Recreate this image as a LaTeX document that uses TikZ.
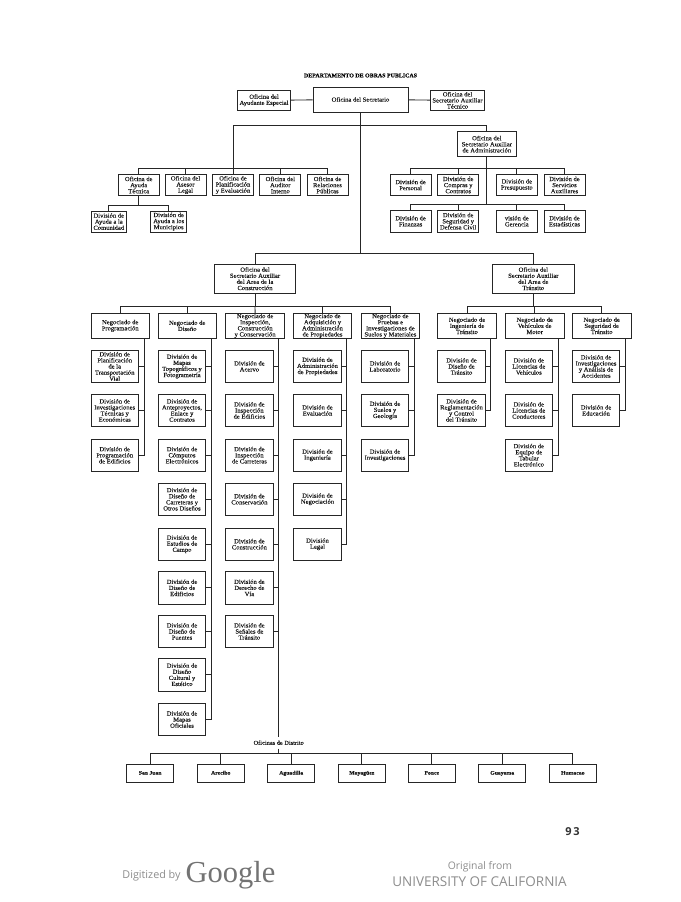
\documentclass[tikz,border=0pt]{standalone}
\usepackage{fontspec}
\usepackage{tikz}
\usetikzlibrary{positioning, calc}
\setmainfont[FakeStretch=1.06,FakeBold=0.15]{Liberation Serif}
\newfontfamily\scanfont{Open Sans}
\newfontfamily\logofont{Liberation Serif}
\definecolor{inkline}{gray}{0.15}
\definecolor{scangray}{gray}{0.55}

\begin{document}
\begin{tikzpicture}[
  x=1pt, y=-1pt,
  line width=0.9pt, draw=inkline,
  box/.style={draw=inkline, align=center, inner sep=0pt, text=black!90, font=\fontsize{6.2}{6.1}\selectfont},
  oficina/.style={box, minimum width=41pt, minimum height=21.5pt},
  secaux/.style={box, minimum width=81.5pt, minimum height=29.3pt},
  negociado/.style={box, minimum width=58.5pt, minimum height=25pt},
  division/.style={box, minimum width=47.5pt, minimum height=32.5pt},
  distrito/.style={box, line width=1.2pt, minimum width=47pt, minimum height=18pt, text height=3.8pt, text depth=1.2pt, font=\fontsize{5.4}{6}\selectfont\bfseries}
]
  \useasboundingbox (0,0) rectangle (680,902);

  % Title
  \node[font=\fontsize{5.6}{6}\selectfont\bfseries] (title) at (360.5,75.5) {DEPARTAMENTO DE OBRAS PUBLICAS};

  % Top row
  \node[box, minimum width=95pt, minimum height=25pt] (secretario) at (360.5,99.5) {Oficina del Secretario};
  \node[box, minimum width=53.5pt, minimum height=20.7pt] (ayudante) at (264,100.3) {Oficina del\\Ayudante Especial};
  \node[box, minimum width=53.5pt, minimum height=20.7pt] (tecnico) at (457.5,100.3) {Oficina del\\Secretario Auxiliar\\Técnico};
  \node[box, minimum width=58.5pt, minimum height=25pt] (admin) at (486.8,144.2) {Oficina del\\Secretario Auxiliar\\de Administración};

  % Offices on the left
  \node[oficina] (ayuda) at (138.7,185) {Oficina de\\Ayuda\\Técnica};
  \node[oficina] (asesor) at (185.5,185) {Oficina del\\Asesor\\Legal};
  \node[oficina] (planif) at (233,185) {Oficina de\\Planificación\\y Evaluación};
  \node[oficina] (auditor) at (280.3,185) {Oficina del\\Auditor\\Interno};
  \node[oficina] (relaciones) at (327.5,185) {Oficina de\\Relaciones\\Públicas};
  \node[box, minimum width=35.7pt, minimum height=21.3pt] (comunidad) at (108.8,221.6) {División de\\Ayuda a la\\Comunidad};
  \node[box, minimum width=36pt, minimum height=21.3pt] (municipios) at (168.7,221.6) {División de\\Ayuda a los\\Municipios};

  % Divisions of administration
  \node[oficina] (personal) at (410.6,185) {División de\\Personal};
  \node[oficina] (compras) at (458.2,185) {División de\\Compras y\\Contratos};
  \node[oficina] (presupuesto) at (516.8,185) {División de\\Presupuesto};
  \node[oficina] (servicios) at (564.5,185) {División de\\Servicios\\Auxiliares};
  \node[oficina] (finanzas) at (410.6,221.2) {División de\\Finanzas};
  \node[oficina] (seguridad) at (458.2,221.2) {División de\\Seguridad y\\Defensa Civil};
  \node[oficina] (gerencia) at (516.8,221.2) {visión de\\Gerencia};
  \node[oficina] (estadisticas) at (564.5,221.2) {División de\\Estadísticas};

  % Assistant secretaries
  \node[secaux] (construccion) at (255,278.7) {Oficina del\\Secretario Auxiliar\\del Area de la\\Construcción};
  \node[secaux] (transito) at (533.3,278.7) {Oficina del\\Secretario Auxiliar\\del Area de\\Tránsito};

  % Negociados
  \node[negociado] (negprog) at (120.2,325.8) {Negociado de\\Programación};
  \node[negociado] (negdis) at (187.2,325.8) {Negociado de\\Diseño};
  \node[negociado] (negins) at (255.1,325.8) {Negociado de\\Inspección,\\Construcción\\y Conservación};
  \node[negociado] (negadq) at (322.5,325.8) {Negociado de\\Adquisición y\\Administración\\de Propiedades};
  \node[negociado] (negpru) at (390.4,325.8) {Negociado de\\Pruebas e\\Investigaciones de\\Suelos y Materiales};
  \node[negociado] (neging) at (467,325.8) {Negociado de\\Ingeniería de\\Tránsito};
  \node[negociado] (negveh) at (534.7,325.8) {Negociado de\\Vehículos de\\Motor};
  \node[negociado] (negseg) at (601.7,325.8) {Negociado de\\Seguridad de\\Tránsito};

  % Programacion
  \node[division] (prog1) at (114.7,366.4) {División de\\Planificación\\de la\\Transportación\\Vial};
  \node[division] (prog2) at (114.7,410.4) {División de\\Investigaciones\\Técnicas y\\Económicas};
  \node[division] (prog3) at (114.7,455.2) {División de\\Programación\\de Edificios};

  % Diseno
  \node[division] (dis1) at (182,366.4) {División de\\Mapas\\Topográficos y\\Fotogrametría};
  \node[division] (dis2) at (182,410.4) {División de\\Anteproyectos,\\Enlace y\\Contratos};
  \node[division] (dis3) at (182,455.2) {División de\\Cómputos\\Electrónicos};
  \node[division] (dis4) at (182,499.2) {División de\\Diseño de\\Carreteras y\\Otros Diseños};
  \node[division] (dis5) at (182,544.2) {División de\\Estudios de\\Campo};
  \node[division] (dis6) at (182,587.8) {División de\\Diseño de\\Edificios};
  \node[division] (dis7) at (182,631.4) {División de\\Diseño de\\Puentes};
  \node[division] (dis8) at (182,674.7) {División de\\Diseño\\Cultural y\\Estético};
  \node[division] (dis9) at (182,719.5) {División de\\Mapas\\Oficiales};

  % Inspeccion
  \node[division] (ins1) at (249.4,366.4) {División de\\Acervo};
  \node[division] (ins2) at (249.4,410.4) {División de\\Inspección\\de Edificios};
  \node[division] (ins3) at (249.4,455.2) {División de\\Inspección\\de Carreteras};
  \node[division] (ins4) at (249.4,499.2) {División de\\Conservación};
  \node[division] (ins5) at (249.4,544.2) {División de\\Construcción};
  \node[division] (ins6) at (249.4,587.8) {División de\\Derecho de\\Vía};
  \node[division] (ins7) at (249.4,631.4) {División de\\Señales de\\Tránsito};

  % Adquisicion
  \node[division] (adq1) at (317.5,366.4) {División de\\Administración\\de Propiedades};
  \node[division] (adq2) at (317.5,410.4) {División de\\Evaluación};
  \node[division] (adq3) at (317.5,455.2) {División de\\Ingeniería};
  \node[division] (adq4) at (317.5,499.2) {División de\\Negociación};
  \node[division] (adq5) at (317.5,544.2) {División\\Legal};

  % Pruebas
  \node[division] (pru1) at (385,366.4) {División de\\Laboratorio};
  \node[division] (pru2) at (385,410.4) {División de\\Suelos y\\Geología};
  \node[division] (pru3) at (385,455.2) {División de\\Investigaciones};

  % Transito
  \node[division] (ing1) at (461.5,366.4) {División de\\Diseño de\\Tránsito};
  \node[division] (ing2) at (461.5,410.4) {División de\\Reglamentación\\y Control\\del Tránsito};
  \node[division] (veh1) at (528.8,366.4) {División de\\Licencias de\\Vehículos};
  \node[division] (veh2) at (528.8,410.4) {División de\\Licencias de\\Conductores};
  \node[division] (veh3) at (528.8,455.2) {División de\\Equipo de\\Tabular\\Electrónico};
  \node[division] (seg1) at (596,366.4) {División de\\Investigaciones\\y Análisis de\\Accidentes};
  \node[division] (seg2) at (596,410.4) {División de\\Educación};

  % District offices
  \node[font=\fontsize{6}{6}\selectfont, text=black!90] (oficinas) at (278.7,742.7) {Oficinas de Distrito};
  \node[distrito] (sanjuan) at (150.2,773.3) {San Juan};
  \node[distrito] (arecibo) at (220.8,773.3) {Arecibo};
  \node[distrito] (aguadilla) at (291.2,773.3) {Aguadilla};
  \node[distrito] (mayaguez) at (361.8,773.3) {Mayagüez};
  \node[distrito] (ponce) at (431.8,773.3) {Ponce};
  \node[distrito] (guayama) at (502.2,773.3) {Guayama};
  \node[distrito] (humacao) at (572.8,773.3) {Humacao};

  % Junctions of the tree
  \coordinate (trunk1) at (360,125.7);
  \coordinate (trunk2) at (360,253.3);
  \coordinate (left1) at (233,168.3);
  \coordinate (adm1) at (486.8,168.3);
  \coordinate (adm2) at (486.8,204.3);
  \coordinate (ayu1) at (138.7,205);
  \coordinate (con1) at (255,306.7);
  \coordinate (tra1) at (533.3,306.7);
  \coordinate (dist1) at (278.7,753.5);

  % Top connectors
  \draw (ayudante) -- (secretario);
  \draw (secretario) -- (tecnico);
  \draw (secretario.south -| trunk2) -- (trunk2);
  \draw (trunk1) -| (left1);
  \draw (trunk1) -| (admin.north);

  % Left offices
  \draw (left1) -| (ayuda.north);
  \draw (left1) -| (asesor.north);
  \draw (left1) -- (planif.north);
  \draw (left1) -| (auditor.north);
  \draw (left1) -| (relaciones.north);
  \draw (ayuda.south) -- (ayu1);
  \draw (ayu1) -| (comunidad.north);
  \draw (ayu1) -| (municipios.north);

  % Administration
  \draw (admin.south) -- (adm2);
  \draw (adm1) -| (personal.north);
  \draw (adm1) -| (compras.north);
  \draw (adm1) -| (presupuesto.north);
  \draw (adm1) -| (servicios.north);
  \draw (adm2) -| (finanzas.north);
  \draw (adm2) -| (seguridad.north);
  \draw (adm2) -| (gerencia.north);
  \draw (adm2) -| (estadisticas.north);

  % Assistant secretaries
  \draw (trunk2) -| (construccion.north);
  \draw (trunk2) -| (transito.north);
  \draw (construccion.south) -- (con1);
  \draw (transito.south) -- (tra1);
  \draw (con1) -| (negprog.north);
  \draw (con1) -| (negdis.north);
  \draw (con1) -- (negins.north);
  \draw (con1) -| (negadq.north);
  \draw (con1) -| (negpru.north);
  \draw (tra1) -| (neging.north);
  \draw (tra1) -| (negveh.north);
  \draw (tra1) -| (negseg.north);

  % Side lines
  \coordinate (sideprog) at (144,338.3);
  \coordinate (sidedis) at (211,338.3);
  \coordinate (sideins) at (278.7,338.3);
  \coordinate (sideadq) at (346.7,338.3);
  \coordinate (sidepru) at (414,338.3);
  \coordinate (sideing) at (490.3,338.3);
  \coordinate (sideveh) at (558,338.3);
  \coordinate (sideseg) at (625.3,338.3);

  \draw (prog1.east) -- (prog1.east -| sideprog);
  \draw (prog2.east) -- (prog2.east -| sideprog);
  \draw (sideprog) |- (prog3.east);
  \draw (dis1.east) -- (dis1.east -| sidedis);
  \draw (dis2.east) -- (dis2.east -| sidedis);
  \draw (dis3.east) -- (dis3.east -| sidedis);
  \draw (dis4.east) -- (dis4.east -| sidedis);
  \draw (dis5.east) -- (dis5.east -| sidedis);
  \draw (dis6.east) -- (dis6.east -| sidedis);
  \draw (dis7.east) -- (dis7.east -| sidedis);
  \draw (dis8.east) -- (dis8.east -| sidedis);
  \draw (sidedis) |- (dis9.east);
  \draw (ins1.east) -- (ins1.east -| sideins);
  \draw (ins2.east) -- (ins2.east -| sideins);
  \draw (ins3.east) -- (ins3.east -| sideins);
  \draw (ins4.east) -- (ins4.east -| sideins);
  \draw (ins5.east) -- (ins5.east -| sideins);
  \draw (ins6.east) -- (ins6.east -| sideins);
  \draw (ins7.east) -- (ins7.east -| sideins);
  \draw (sideins) -- (oficinas.north -| sideins);
  \draw (adq1.east) -- (adq1.east -| sideadq);
  \draw (adq2.east) -- (adq2.east -| sideadq);
  \draw (adq3.east) -- (adq3.east -| sideadq);
  \draw (adq4.east) -- (adq4.east -| sideadq);
  \draw (sideadq) |- (adq5.east);
  \draw (pru1.east) -- (pru1.east -| sidepru);
  \draw (pru2.east) -- (pru2.east -| sidepru);
  \draw (sidepru) |- (pru3.east);
  \draw (ing1.east) -- (ing1.east -| sideing);
  \draw (sideing) |- (ing2.east);
  \draw (veh1.east) -- (veh1.east -| sideveh);
  \draw (veh2.east) -- (veh2.east -| sideveh);
  \draw (sideveh) |- (veh3.east);
  \draw (seg1.east) -- (seg1.east -| sideseg);
  \draw (sideseg) |- (seg2.east);

  % District connectors
  \draw (oficinas.south) -- (dist1);
  \draw (dist1) -| (sanjuan.north);
  \draw (dist1) -| (arecibo.north);
  \draw (dist1) -| (aguadilla.north);
  \draw (dist1) -| (mayaguez.north);
  \draw (dist1) -| (ponce.north);
  \draw (dist1) -| (guayama.north);
  \draw (dist1) -| (humacao.north);

  % Footer of the page
  \node[font=\scanfont\fontsize{11}{12}\selectfont\bfseries, text=black!80] (pagina) at (572.5,831.5) {9\,3};
  \node[font=\scanfont\fontsize{10.8}{11}\selectfont, text=scangray] (digitized) at (151.5,876) {Digitized by};
  \node[font=\logofont\fontsize{30.5}{33}\selectfont, text=black!55] (google) at (230.5,875) {Google};
  \node[font=\scanfont\fontsize{10.4}{11}\selectfont, text=scangray] (original) at (480,867) {Original from};
  \node[font=\scanfont\fontsize{13.5}{14}\selectfont, text=scangray] (california) at (479.5,882) {UNIVERSITY OF CALIFORNIA};
\end{tikzpicture}
\end{document}
